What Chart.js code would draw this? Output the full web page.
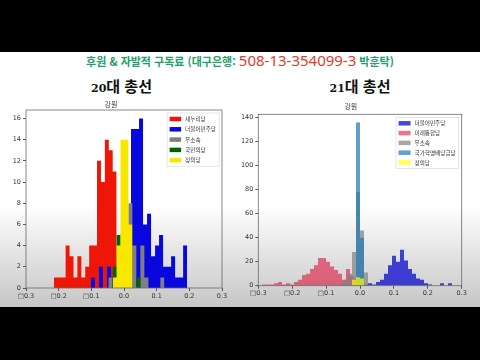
<!DOCTYPE html>
<html lang="ko">
  <head>
    <meta charset="UTF-8" />
    <meta name="viewport" content="width=device-width, initial-scale=1.0" />
    <title>강원 총선 분포</title>
    <script src="https://cdn.jsdelivr.net/npm/chart.js"></script>
    <style>
      body {
        margin: 0;
        width: 480px;
        height: 360px;
        background: #000;
        position: relative;
        overflow: hidden;
        font-family: 'Noto Sans CJK KR', 'Noto Sans', sans-serif;
      }
      #panel {
        position: absolute;
        left: 0;
        top: 52px;
        width: 480px;
        height: 255px;
        background: linear-gradient(to bottom, #fff 0%, #fff 60%, #c6c6c6 100%);
      }
      #support {
        position: absolute;
        left: 0;
        top: 52px;
        width: 480px;
        line-height: 17px;
        text-align: center;
        color: #23a06a;
        font-size: 11px;
        font-weight: 700;
        white-space: nowrap;
      }
      #support .acct {
        color: #e23b2c;
        font-family: 'Noto Sans', sans-serif;
        font-size: 15px;
        font-weight: 400;
      }
      .ttl {
        position: absolute;
        top: 76px;
        line-height: 19px;
        text-align: center;
        font-size: 15px;
        font-weight: 700;
        color: #111;
      }
      .ttl .num {
        font-family: 'DejaVu Serif', serif;
        font-size: 11px;
      }
      canvas {
        position: absolute;
        top: 95px;
      }
    </style>
  </head>
  <body>
    <div id="panel"></div>
    <div id="support">후원 &amp; 자발적 구독료 (대구은행: <span class="acct">508-13-354099-3</span> 박훈탁)</div>
    <div class="ttl" style="left: 0; width: 243px"><span class="num">20</span>대 총선</div>
    <div class="ttl" style="left: 240px; width: 240px"><span class="num">21</span>대 총선</div>

    <canvas id="chart20" width="240" height="212" style="left: 0"></canvas>
    <canvas id="chart21" width="240" height="212" style="left: 240px"></canvas>

    <script>
      // 20대 총선 (강원) - histogram counts per party
      let labels20 = ['새누리당', '더불어민주당', '무소속', '국민의당', '정의당'];
      let colors20 = ['rgb(238,22,6)', 'rgb(8,8,222)', 'rgb(128,128,128)', 'rgb(0,100,0)', 'rgb(248,232,0)'];
      let binStart20 = [-0.2147, -0.1012, -0.0481, -0.0348, -0.0348];
      let binWidth20 = [0.01201, 0.01227, 0.01227, 0.0122, 0.0121];
      let saenuri20 = [1, 1, 1, 4, 3, 1, 3, 1, 2, 4, 4, 12, 10, 14, 13, 11];
      let minju20 = [1, 0, 2, 0, 2, 1, 2, 3, 4, 5, 15, 15, 16, 6, 7, 3, 4, 5, 2, 2, 3, 1, 1, 4];
      let indep20 = [1, 0, 0, 1, 2, 8, 4, 0, 4, 1, 0, 0, 0, 1];
      let gukmin20 = [2, 5, 3, 2, 0, 0, 1];
      let jeongui20 = [1, 4, 14, 14, 6];

      // 21대 총선 (강원)
      let labels21 = ['더불어민주당', '미래통합당', '무소속', '국가혁명배당금당', '정의당'];
      let colors21 = ['rgba(0,0,205,0.72)', 'rgba(220,20,60,0.6)', 'rgba(128,128,128,0.7)', 'rgba(31,119,180,0.7)', 'rgba(255,255,0,0.7)'];
      let binStart21 = [0.0236, -0.289, -0.059, -0.0118, -0.0236];
      let binWidth21 = [0.0118, 0.0118, 0.0118, 0.0118, 0.0118];
      let minju21 = [2, 1, 3, 5, 10, 17, 25, 20, 30, 21, 14, 10, 6, 5, 2, 1, 0, 0, 2, 0, 2];
      let tonghap21 = [1, 1, 1, 2, 3, 1, 2, 1, 3, 5, 9, 10, 14, 17, 23, 23, 20, 16, 13, 10, 5, 14, 8, 6];
      let indep21 = [2, 5, 10, 28, 78, 46, 11];
      let hyeokmyeong21 = [136, 40, 1];
      let jeongui21 = [5, 7, 6];

      let counts20 = [saenuri20, minju20, indep20, gukmin20, jeongui20];
      let counts21 = [minju21, tonghap21, indep21, hyeokmyeong21, jeongui21];

      // bin edges -> stepped points
      function histPoints(start, width, counts) {
        let pts = counts.map((c, i) => ({ x: start + i * width, y: c }));
        pts.push({ x: start + counts.length * width, y: 0 });
        return pts;
      }

      function makeDatasets(labels, colors, starts, widths, counts) {
        return labels.map((label, i) => ({
          label,
          data: histPoints(starts[i], widths[i], counts[i]),
          backgroundColor: colors[i],
          borderWidth: 0,
          pointRadius: 0,
          stepped: true,
          fill: 'origin',
          order: labels.length - i,
        }));
      }

      // frame + legend inside the axes, top right
      var boxLegend = {
        id: 'boxLegend',
        afterDatasetsDraw(chart, args, opts) {
          const { ctx, chartArea } = chart;
          ctx.save();
          ctx.strokeStyle = '#6a6a6a';
          ctx.lineWidth = 0.8;
          ctx.strokeRect(chartArea.left, chartArea.top, chartArea.right - chartArea.left, chartArea.bottom - chartArea.top);

          ctx.font = '5.6px "Noto Sans CJK KR"';
          const sets = chart.data.datasets;
          const textW = Math.max(...sets.map((d) => ctx.measureText(d.label).width));
          const w = 2.5 + opts.swatch + 4 + textW + 3;
          const h = 12 + (sets.length - 1) * opts.row;
          const x = chartArea.right - 3 - w;
          const y = chartArea.top + 3;
          ctx.fillStyle = 'rgba(255,255,255,0.85)';
          ctx.fillRect(x, y, w, h);
          ctx.strokeStyle = '#d4d4d4';
          ctx.lineWidth = 0.6;
          ctx.strokeRect(x, y, w, h);
          ctx.textBaseline = 'middle';
          sets.forEach((d, i) => {
            const cy = y + 6 + i * opts.row;
            ctx.fillStyle = d.backgroundColor;
            ctx.fillRect(x + 2.5, cy - 2.25, opts.swatch, 4.5);
            ctx.fillStyle = '#333';
            ctx.fillText(d.label, x + 2.5 + opts.swatch + 4, cy);
          });
          ctx.restore();
        },
      };

      function makeConfig(datasets, yMax, yStep, axis) {
        return {
          type: 'line',
          data: { datasets },
          plugins: [boxLegend],
          options: {
            responsive: false,
            animation: false,
            layout: { padding: { right: axis.right } },
            plugins: {
              legend: { display: false },
              tooltip: { enabled: false },
              title: {
                display: true,
                text: '강원',
                color: '#444',
                font: { family: 'Noto Sans CJK KR', size: 7, weight: 'normal' },
                padding: { top: axis.titleTop, bottom: axis.titleBottom },
              },
              boxLegend: { swatch: axis.swatch, row: axis.row },
            },
            scales: {
              x: {
                type: 'linear',
                min: -0.3,
                max: 0.3,
                afterFit: (s) => {
                  s.height = axis.bottom;
                },
                border: { display: false },
                grid: { drawOnChartArea: false, tickLength: 3, color: '#555' },
                ticks: {
                  stepSize: 0.1,
                  autoSkip: false,
                  maxRotation: 0,
                  padding: axis.xPad,
                  color: '#333',
                  font: { family: 'DejaVu Sans', size: 6.5 },
                  callback: function (value) {
                    return (value < -1e-9 ? '\u25A1' : '') + Math.abs(value).toFixed(1);
                  },
                },
              },
              y: {
                min: 0,
                max: yMax,
                afterFit: (s) => {
                  s.width = axis.left;
                },
                border: { display: false },
                grid: { drawOnChartArea: false, tickLength: 3, color: '#555' },
                ticks: {
                  stepSize: yStep,
                  includeBounds: false,
                  padding: 2,
                  color: '#333',
                  font: { family: 'DejaVu Sans', size: 6.5 },
                },
              },
            },
          },
        };
      }

      var chart20 = new Chart(
        document.getElementById('chart20'),
        makeConfig(makeDatasets(labels20, colors20, binStart20, binWidth20, counts20), 16.8, 2, {
          left: 26,
          right: 18,
          bottom: 19,
          titleTop: 4.8,
          titleBottom: 1.8,
          xPad: 1.2,
          swatch: 11.5,
          row: 10.3,
        })
      );

      var chart21 = new Chart(
        document.getElementById('chart21'),
        makeConfig(makeDatasets(labels21, colors21, binStart21, binWidth21, counts21), 142.8, 20, {
          left: 18.3,
          right: 18.3,
          bottom: 21.3,
          titleTop: 7.3,
          titleBottom: 3.6,
          xPad: 0.3,
          swatch: 12,
          row: 9.8,
        })
      );
    </script>
  </body>
</html>
